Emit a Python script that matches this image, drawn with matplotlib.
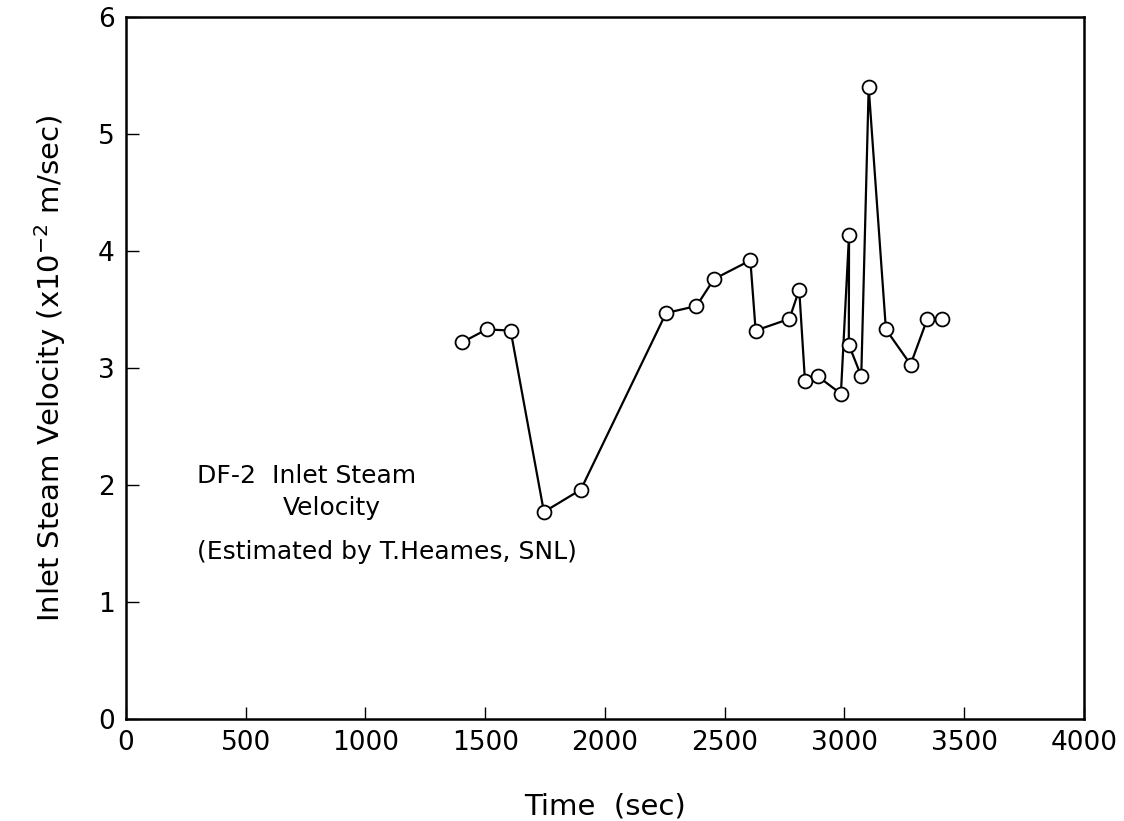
"""
plot.py
"""

# Import libraries
import matplotlib
matplotlib.use("Agg")
import matplotlib.pyplot as plt

# Data (time in sec, velocity in 1e-2 m/sec)
time_sec = [1404, 1506, 1606, 1745, 1899, 2255, 2382, 2455, 2607, 2629,
            2770, 2811, 2835, 2888, 2985, 3019, 3018, 3070, 3101, 3173,
            3276, 3346, 3407]
velocity = [3.22, 3.33, 3.32, 1.77, 1.96, 3.47, 3.53, 3.76, 3.92, 3.32,
            3.42, 3.67, 2.89, 2.93, 2.78, 4.14, 3.20, 2.93, 5.40, 3.33,
            3.03, 3.42, 3.42]

x_ticks = [0, 500, 1000, 1500, 2000, 2500, 3000, 3500, 4000]
y_ticks = [0, 1, 2, 3, 4, 5, 6]

plt.rcParams["font.family"] = ["Liberation Sans Narrow", "DejaVu Sans"]

fig = plt.figure(figsize=(11.24, 8.21), dpi=100)
ax = fig.add_axes([0.1121, 0.1242, 0.8523, 0.8551])

ax.plot(time_sec, velocity, color="black", lw=1.6, marker="o",
        markersize=10, markerfacecolor="white", markeredgecolor="black",
        markeredgewidth=1.3)

ax.set_xlim(0, 4000)
ax.set_ylim(0, 6)
ax.set_xticks(x_ticks)
ax.set_yticks(y_ticks)
ax.tick_params(direction="in", length=9, width=1.0, labelsize=19,
               top=False, right=False, pad=8)

for sp in ax.spines.values():
    sp.set_linewidth(1.8)

ax.set_xlabel("Time  (sec)", fontsize=21, labelpad=26)
ax.set_ylabel(r"Inlet Steam Velocity (x10$^{-2}$ m/sec)", fontsize=21,
              labelpad=22)

# annotation
ax.text(296, 2.08, "DF-2  Inlet Steam", fontsize=18, ha="left", va="center")
ax.text(655, 1.80, "Velocity", fontsize=18, ha="left", va="center")
ax.text(296, 1.43, "(Estimated by T.Heames, SNL)", fontsize=18,
        ha="left", va="center")

fig.savefig("out.png", dpi=100)
